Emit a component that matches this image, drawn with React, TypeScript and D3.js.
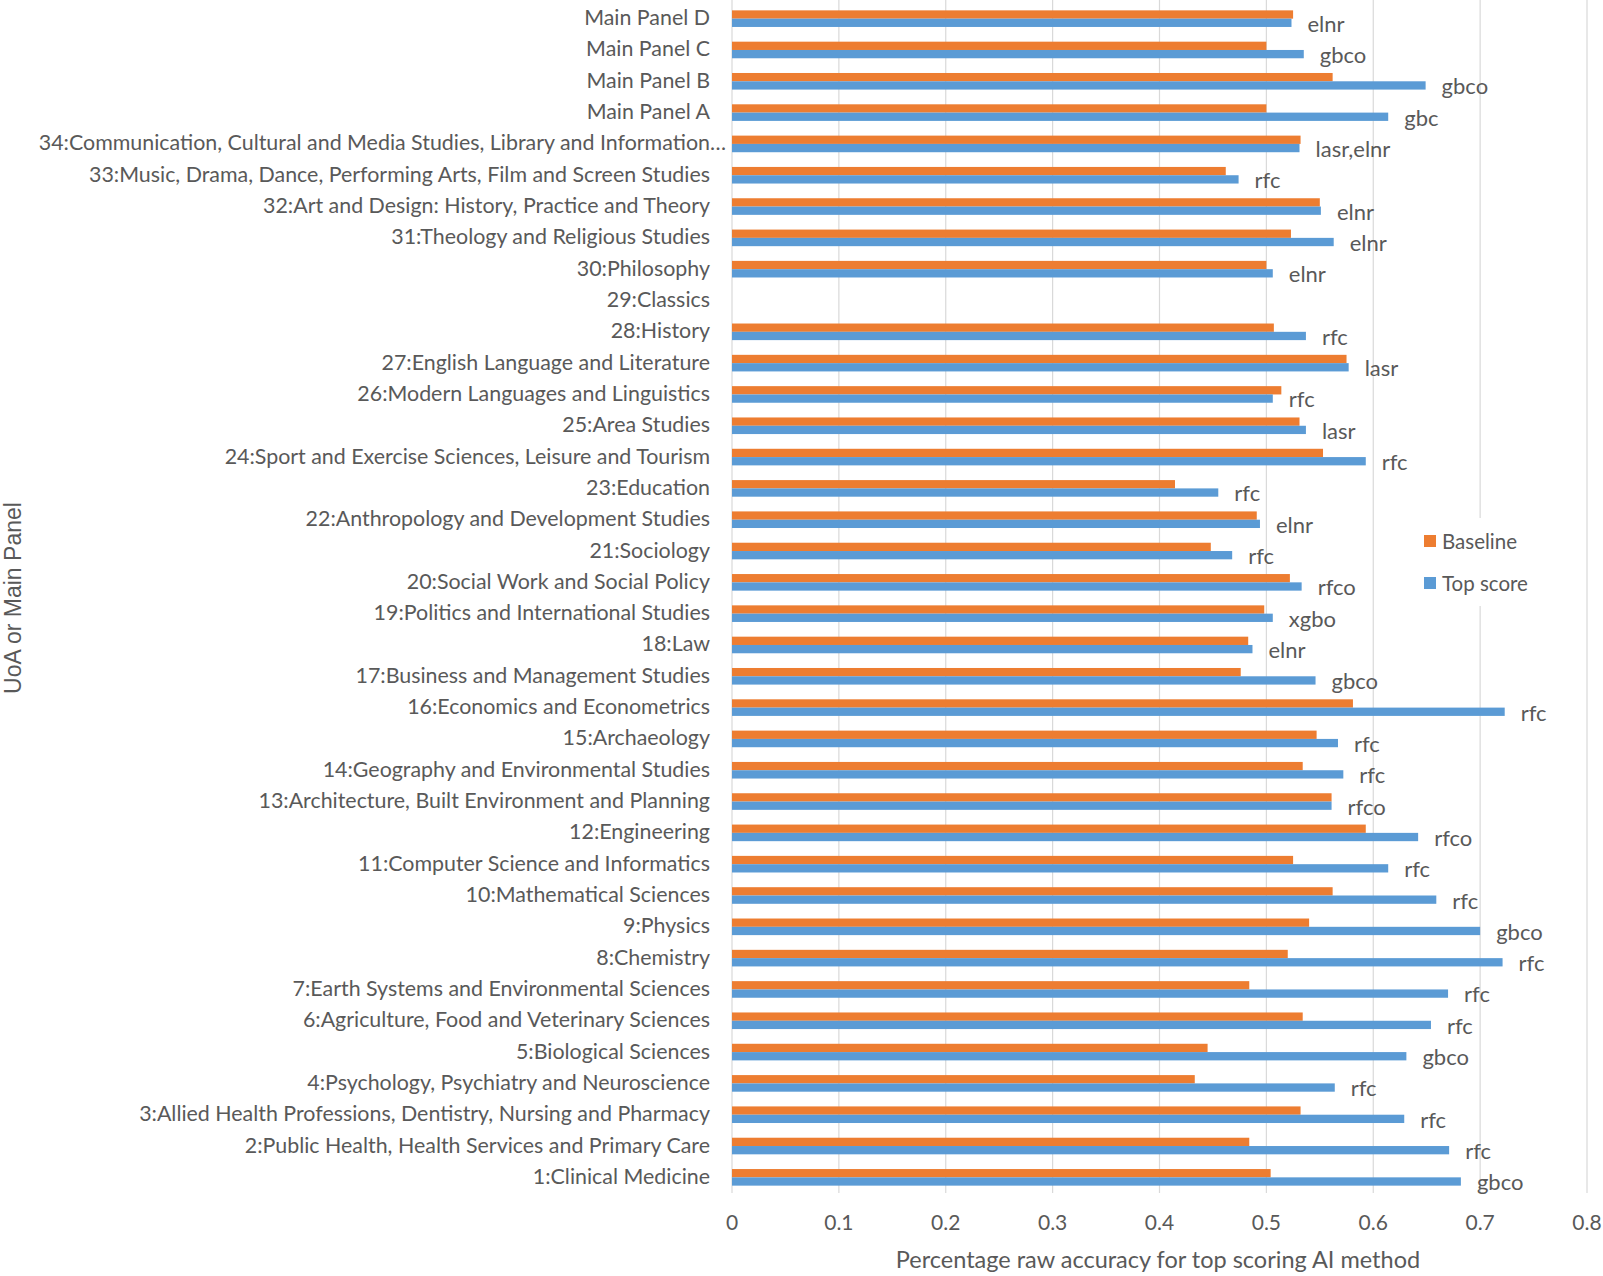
import React from "react";
import * as d3 from "d3";

const categories: string[] = [
  "Main Panel D",
  "Main Panel C",
  "Main Panel B",
  "Main Panel A",
  "34:Communication, Cultural and Media Studies, Library and Information…",
  "33:Music, Drama, Dance, Performing Arts, Film and Screen Studies",
  "32:Art and Design: History, Practice and Theory",
  "31:Theology and Religious Studies",
  "30:Philosophy",
  "29:Classics",
  "28:History",
  "27:English Language and Literature",
  "26:Modern Languages and Linguistics",
  "25:Area Studies",
  "24:Sport and Exercise Sciences, Leisure and Tourism",
  "23:Education",
  "22:Anthropology and Development Studies",
  "21:Sociology",
  "20:Social Work and Social Policy",
  "19:Politics and International Studies",
  "18:Law",
  "17:Business and Management Studies",
  "16:Economics and Econometrics",
  "15:Archaeology",
  "14:Geography and Environmental Studies",
  "13:Architecture, Built Environment and Planning",
  "12:Engineering",
  "11:Computer Science and Informatics",
  "10:Mathematical Sciences",
  "9:Physics",
  "8:Chemistry",
  "7:Earth Systems and Environmental Sciences",
  "6:Agriculture, Food and Veterinary Sciences",
  "5:Biological Sciences",
  "4:Psychology, Psychiatry and Neuroscience",
  "3:Allied Health Professions, Dentistry, Nursing and Pharmacy",
  "2:Public Health, Health Services and Primary Care",
  "1:Clinical Medicine",
];

const baseline: (number | null)[] = [
  0.525, 0.5, 0.562, 0.5, 0.532, 0.462, 0.55, 0.523, 0.5, null,
  0.507, 0.575, 0.514, 0.531, 0.553, 0.4145, 0.491, 0.448, 0.522, 0.498,
  0.483, 0.476, 0.581, 0.547, 0.534, 0.561, 0.593, 0.525, 0.562, 0.54,
  0.52, 0.484, 0.534, 0.445, 0.433, 0.532, 0.484, 0.504,
];

const topScore: (number | null)[] = [
  0.5235, 0.535, 0.649, 0.614, 0.531, 0.474, 0.551, 0.563, 0.506, null,
  0.537, 0.577, 0.506, 0.537, 0.593, 0.455, 0.494, 0.468, 0.533, 0.506,
  0.487, 0.546, 0.723, 0.567, 0.572, 0.561, 0.642, 0.614, 0.659, 0.7,
  0.721, 0.67, 0.654, 0.631, 0.564, 0.629, 0.671, 0.682,
];

const methods: string[] = [
  "elnr", "gbco", "gbco", "gbc", "lasr,elnr", "rfc", "elnr", "elnr", "elnr", "",
  "rfc", "lasr", "rfc", "lasr", "rfc", "rfc", "elnr", "rfc", "rfco", "xgbo",
  "elnr", "gbco", "rfc", "rfc", "rfc", "rfco", "rfco", "rfc", "rfc", "gbco",
  "rfc", "rfc", "rfc", "gbco", "rfc", "rfc", "rfc", "gbco",
];

const xTicks: number[] = [0, 0.1, 0.2, 0.3, 0.4, 0.5, 0.6, 0.7, 0.8];
const seriesNames: string[] = ["Baseline", "Top score"];
const seriesColors: string[] = ["#ED7D31", "#5B9BD5"];

const W = 1603;
const H = 1276;
const FONT = "Lato, 'Open Sans', sans-serif";
const TEXT = "#595959";

export default function App() {
  const x = d3.scaleLinear().domain([0, 0.8]).range([732, 1587]);
  const y = d3.scaleBand<string>().domain(categories).range([3, 1193]);
  const barH = 8.3;
  const plotTop = 3;
  const plotBottom = 1193;

  return (
    <svg
      width={W}
      height={H}
      style={{ position: "absolute", left: 0, top: 0, background: "#fff" }}
      fontFamily={FONT}
    >
      <rect x={0} y={0} width={W} height={H} fill="#fff" />
      {xTicks.map((t) => (
        <line
          key={"g" + t}
          x1={x(t)}
          x2={x(t)}
          y1={plotTop - 3}
          y2={plotBottom}
          stroke="#D9D9D9"
          strokeWidth={1.2}
        />
      ))}
      {categories.map((c, i) => {
        const cy = (y(c) as number) + y.bandwidth() / 2;
        const b = baseline[i];
        const t = topScore[i];
        const truncated = c.endsWith("…");
        return (
          <g key={c}>
            {b != null && (
              <rect x={x(0)} y={cy - barH} width={x(b) - x(0)} height={barH} fill={seriesColors[0]} />
            )}
            {t != null && (
              <rect x={x(0)} y={cy} width={x(t) - x(0)} height={barH} fill={seriesColors[1]} />
            )}
            {t != null && methods[i] && (
              <text
                x={x(t) + 16}
                y={cy + 4.5}
                dominantBaseline="central"
                fontSize={22}
                fill={TEXT}
              >
                {methods[i]}
              </text>
            )}
            <text
              x={truncated ? 726 : 710}
              y={cy - 1.5}
              textAnchor="end"
              dominantBaseline="central"
              fontSize={21.4}
              fill={TEXT}
            >
              {c}
            </text>
          </g>
        );
      })}
      {xTicks.map((t) => (
        <text
          key={"t" + t}
          x={x(t)}
          y={1221}
          textAnchor="middle"
          dominantBaseline="central"
          fontSize={21}
          fill={TEXT}
        >
          {String(t)}
        </text>
      ))}
      <text x={1158} y={1259} textAnchor="middle" dominantBaseline="central" fontSize={23.5} fill={TEXT}>
        Percentage raw accuracy for top scoring AI method
      </text>
      <text
        transform={`translate(13,598) rotate(-90)`}
        textAnchor="middle"
        dominantBaseline="central"
        fontSize={23}
        fontFamily="'Liberation Sans', Arial, sans-serif"
        fill={TEXT}
      >
        UoA or Main Panel
      </text>
      <rect x={1410} y={518} width={135} height={88} fill="#fff" />
      {seriesNames.map((s, i) => (
        <g key={s}>
          <rect x={1424} y={535 + i * 42} width={12} height={12} fill={seriesColors[i]} />
          <text x={1442} y={541 + i * 42} dominantBaseline="central" fontSize={20.5} fill={TEXT}>
            {s}
          </text>
        </g>
      ))}
    </svg>
  );
}
